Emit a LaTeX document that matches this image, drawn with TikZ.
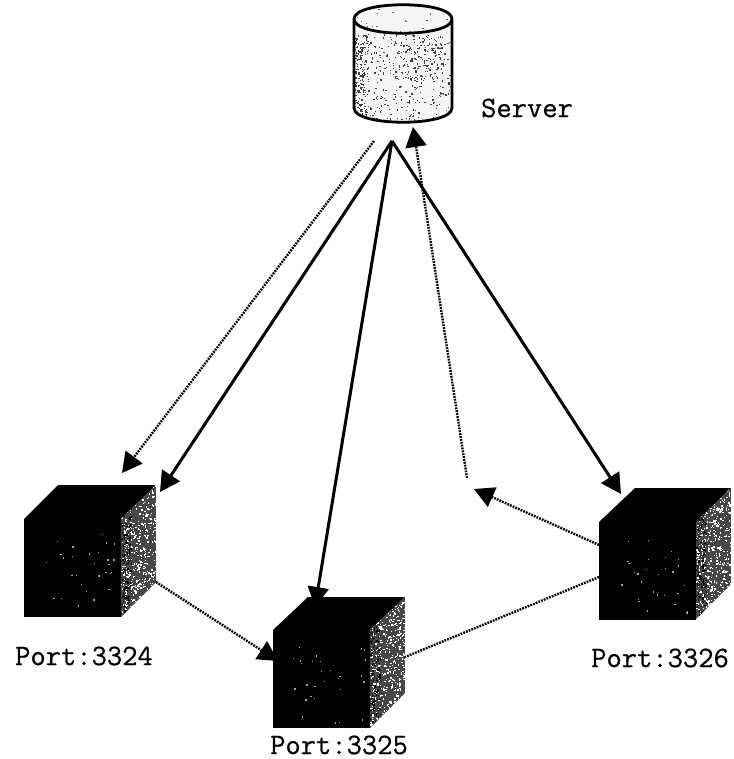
\documentclass[tikz,border=0pt]{standalone}
\usepackage{fontspec}
\setmonofont[FakeBold=0.6]{Latin Modern Mono}
\usetikzlibrary{arrows.meta}
\tikzset{
  x=1pt,y=-1pt,
  conn/.style={line width=3pt,-{Triangle[length=20pt,width=21pt]},black},
  dot/.style={line width=2.4pt,dash pattern=on 1.8pt off 1.1pt,black},
  dotconn/.style={dot,-{Triangle[length=20pt,width=21pt]}},
  lbl/.style={font=\ttfamily\fontsize{29.7}{31}\selectfont\bfseries,inner sep=0pt,text=black},
  front/.style={fill=black,draw=none,inner sep=0pt,minimum width=97pt,minimum height=98pt},
  mark box/.style={inner sep=0pt,minimum width=98pt,minimum height=117pt},
}
\newcommand{\specks}[6]{% x0 y0 w h n colour
  \foreach \i in {1,...,#5}{%
    \pgfmathsetmacro{\sx}{(#1)+rnd*(#3)}%
    \pgfmathsetmacro{\sy}{(#2)+rnd*(#4)}%
    \fill[#6] (\sx,\sy) rectangle ++(1.3,1.3);
  }%
}
\newcommand{\cube}[8]{% name, front x0, y0, x1, y1, back x0, y top, right x
  \fill[black] (#2,#3) -- (#6,#7) -- (#8,#7) -- (#4,#3) -- cycle;
  \node[front,anchor=north west] (#1) at (#2,#3) {};
  \begin{scope}
    \clip (#4,#3) -- (#8,#7) -- (#8,{#5-35}) -- (#4,#5) -- cycle;
    \fill[black!72] (#4,#7) rectangle (#8,#5);
    \specks{#4}{#7}{#8-#4}{#5-#7}{520}{white}
    \specks{#4}{#7}{10}{#5-#7}{200}{black}
  \end{scope}
  \specks{#2+20}{#3+15}{#4-#2-25}{#5-#3-20}{28}{white!65!black}
}
\begin{document}
\begin{tikzpicture}
\pgfmathsetseed{3324}
\useasboundingbox (0,0) rectangle (733,759);
\fill[white] (0,0) rectangle (733,759);

% server cylinder
\begin{scope}
  \clip (354,19) .. controls (354,0) and (452,0) .. (452,19)
        -- (452,108) .. controls (452,127) and (354,127) .. (354,108) -- cycle;
  \fill[white!96!black] (354,0) rectangle (452,125);
  \specks{354}{34}{98}{90}{340}{black!75}
  \specks{354}{34}{14}{90}{170}{black!75}
  \specks{395}{40}{50}{40}{110}{black!75}
  \specks{354}{6}{98}{26}{22}{black!60}
\end{scope}
\draw[line width=2.8pt,black,line join=round]
  (354,19) .. controls (354,0) and (452,0) .. (452,19)
  .. controls (452,38) and (354,38) .. (354,19)
  -- (354,108) .. controls (354,127) and (452,127) .. (452,108) -- (452,19);
\node[mark box] (server) at (403,63.5) {};

% cubes
\cube{cubeA}{24}{519}{121}{617}{58}{485}{156}
\cube{cubeB}{273}{630}{370}{728}{308}{597}{405}
\cube{cubeC}{599}{522}{696}{619}{635}{488}{731}

% labels
\node[lbl] (lserver) at (527,108) {Server};
\node[lbl] (lA) at (84,656) {Port:3324};
\node[lbl] (lB) at (339,745) {Port:3325};
\node[lbl] (lC) at (660,658) {Port:3326};

% connector ends
\coordinate (apex) at (392,141);
\coordinate (dotstart) at (374,141);
\coordinate (tipA1) at (122,473);
\coordinate (tipA2) at (160,492);
\coordinate (tipB) at (315,607);
\coordinate (tipC) at (621,494);
\coordinate (aOut) at (156,582);
\coordinate (tipBd) at (278,661);
\coordinate (cOut1) at (599,545);
\coordinate (tipM) at (474,489);
\coordinate (mid) at (467,478);
\coordinate (tipS) at (413,127);
\coordinate (cOut2) at (599,577);
\coordinate (bOut) at (405,657);

% connectors
\draw[conn] (apex) -- (tipA2);
\draw[conn] (apex) -- (tipB);
\draw[conn] (apex) -- (tipC);
\draw[dotconn] (dotstart) -- (tipA1);
\draw[dotconn] (aOut) -- (tipBd);
\draw[dotconn] (cOut1) -- (tipM);
\draw[dotconn] (mid) -- (tipS);
\draw[dot] (cOut2) -- (bOut);
\end{tikzpicture}
\end{document}
